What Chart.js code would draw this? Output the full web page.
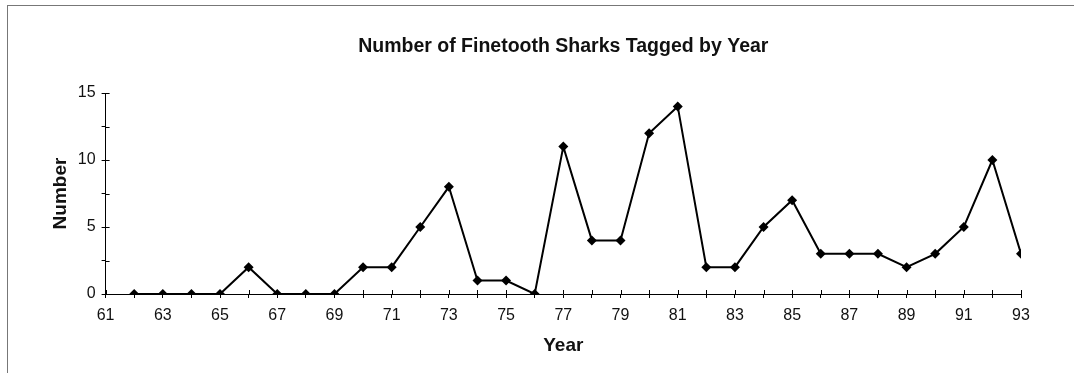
<!DOCTYPE html>
<html>
<head>
<meta charset="utf-8">
<script src="https://cdn.jsdelivr.net/npm/chart.js@4.4.0/dist/chart.umd.min.js"></script>
<style>
    html, body { margin: 0; padding: 0; background: #fff; }
    .wrap { position: relative; width: 1074px; height: 373px; }
    .frame {
        position: absolute; left: 7px; top: 5px; right: 0; bottom: 0;
        border-top: 1px solid #777; border-left: 1px solid #777;
        pointer-events: none;
    }
</style>
</head>
<body>
<div class="wrap">
    <canvas id="sharkChart" width="1074" height="373"></canvas>
    <div class="frame"></div>
</div>
<script>
// Years tagged (19xx) and counts
const years = [62, 63, 64, 65, 66, 67, 68, 69, 70, 71, 72, 73, 74, 75, 76, 77,
    78, 79, 80, 81, 82, 83, 84, 85, 86, 87, 88, 89, 90, 91, 92, 93];
const counts = [0, 0, 0, 0, 2, 0, 0, 0, 2, 2, 5, 8, 1, 1, 0, 11,
    4, 4, 12, 14, 2, 2, 5, 7, 3, 3, 3, 2, 3, 5, 10, 3];

const titleText = 'Number of Finetooth Sharks Tagged by Year';

const xMin = 61;
const xMax = 93;
const yMin = 0;
const yMax = 15;

const font = "'Liberation Sans', Arial, sans-serif";

// Excel style tick marks that cross the axis line (inner half drawn here)
const crossTicks = {
    id: 'crossTicks',
    afterDraw(chart) {
        const ctx = chart.ctx;
        const x = chart.scales.x;
        const y = chart.scales.y;
        ctx.save();
        ctx.strokeStyle = '#000';
        ctx.lineWidth = 1;
        ctx.beginPath();
        x.ticks.forEach(t => {
            const px = Math.round(x.getPixelForValue(t.value)) + 0.5;
            ctx.moveTo(px, y.bottom);
            ctx.lineTo(px, y.bottom - 4);
        });
        y.ticks.forEach(t => {
            const py = Math.round(y.getPixelForValue(t.value)) + 0.5;
            ctx.moveTo(x.left, py);
            ctx.lineTo(x.left + 4, py);
        });
        ctx.stroke();
        ctx.restore();
    }
};

// title centred over the plot area, like Excel does
const plotTitle = {
    id: 'plotTitle',
    afterDraw(chart) {
        const ctx = chart.ctx;
        const area = chart.chartArea;
        ctx.save();
        ctx.fillStyle = '#111';
        ctx.font = 'bold 19.5px ' + font;
        ctx.textAlign = 'center';
        ctx.textBaseline = 'middle';
        ctx.fillText(titleText, (area.left + area.right) / 2, 47);
        ctx.restore();
    }
};

const points = years.map((yr, i) => ({ x: yr, y: counts[i] }));

new Chart(document.getElementById('sharkChart'), {
    type: 'line',
    data: {
        datasets: [{
            data: points,
            borderColor: '#000',
            backgroundColor: '#000',
            borderWidth: 2,
            pointStyle: 'rectRot',
            pointRadius: 5,
            pointBorderWidth: 0,
            tension: 0
        }]
    },
    options: {
        responsive: false,
        animation: false,
        layout: { padding: { left: 49, right: 53, top: 93, bottom: 12 } },
        plugins: {
            legend: { display: false },
            tooltip: { enabled: false },
            title: { display: false }
        },
        scales: {
            x: {
                type: 'linear',
                min: xMin,
                max: xMax,
                grid: { drawOnChartArea: false, drawTicks: true, tickLength: 4, color: '#000' },
                border: { display: true, color: '#000', width: 1 },
                ticks: {
                    stepSize: 1,
                    autoSkip: false,
                    maxRotation: 0,
                    color: '#111',
                    padding: 8,
                    font: { family: font, size: 16 },
                    callback: v => (v % 2 === 1 ? String(v) : '')
                },
                title: {
                    display: true,
                    text: 'Year',
                    color: '#111',
                    font: { family: font, size: 19, weight: 'bold' },
                    padding: { top: 1 }
                }
            },
            y: {
                min: yMin,
                max: yMax,
                grid: { drawOnChartArea: false, drawTicks: true, tickLength: 4, color: '#000' },
                border: { display: true, color: '#000', width: 1 },
                ticks: {
                    stepSize: 2.5,
                    color: '#111',
                    padding: 6,
                    font: { family: font, size: 16 },
                    callback: v => (v % 5 === 0 ? String(v) : '')
                },
                title: {
                    display: true,
                    text: 'Number',
                    color: '#111',
                    font: { family: font, size: 19, weight: 'bold' },
                    padding: { top: 0, bottom: 0 }
                }
            }
        }
    },
    plugins: [crossTicks, plotTitle]
});
</script>
</body>
</html>
